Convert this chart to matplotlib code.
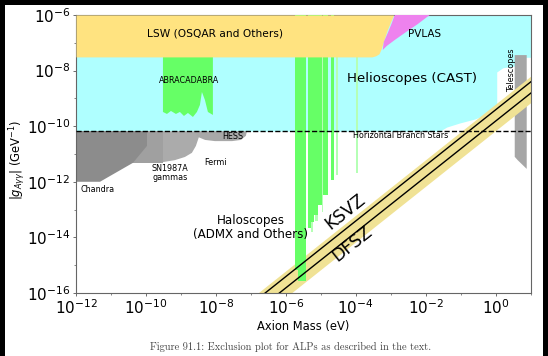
import matplotlib
matplotlib.use("Agg")
import matplotlib.pyplot as plt
from matplotlib.patches import Rectangle
from matplotlib.ticker import NullFormatter

# axis limits: axion mass (eV) and coupling (GeV^-1)
M_LIM = (1e-12, 1e1)
G_LIM = (1e-16, 1e-6)
HB_LIMIT = 6.6e-11

# helioscope (CAST) lower edge
cast_m = [1e-12, 0.025, 0.04, 0.093, 0.25, 0.59, 1.07, 1.07, 1.6, 3.7, 3.7, 10]
cast_g = [6.6e-11, 6.6e-11, 9.3e-11, 1.3e-10, 1.8e-10, 2.75e-10, 3.8e-10,
          8.9e-9, 1.26e-8, 1.48e-8, 3e-8, 3e-8]

# light shining through wall (OSQAR and others)
lsw_m = [1e-12, 2.9e-4, 3.7e-4, 4.6e-4, 5.3e-4, 6e-4, 8e-4, 1.2e-3]
lsw_g = [3.1e-8, 3.1e-8, 3.4e-8, 4e-8, 6e-8, 1e-7, 3e-7, 1e-6]

# PVLAS
pvlas_m = [1.3e-3, 0.013, 5.9e-3, 2.5e-3, 1.3e-3, 7.7e-4, 5.9e-4, 6.3e-4, 8.2e-4, 1.07e-3]
pvlas_g = [1e-6, 1e-6, 4.7e-7, 2.25e-7, 1.26e-7, 7.7e-8, 5.5e-8, 1.07e-7, 2.25e-7, 5.1e-7]

# ABRACADABRA
abra_logm = [-9.514, -8.086, -8.086, -8.229, -8.314, -8.4, -8.457, -8.543, -8.657,
             -8.8, -8.914, -9.029, -9.143, -9.286, -9.4, -9.514]
abra_logg = [-7.51, -7.51, -9.597, -9.489, -9.058, -8.77, -9.237, -9.489, -9.669,
             -9.525, -9.633, -9.489, -9.561, -9.453, -9.561, -9.489]

# haloscope strips: (m_low, m_high, g_low)
halo_lo = [1.81e-6, 2.2e-6, 4.25e-6, 5.2e-6, 6.3e-6, 8.2e-6, 1.14e-5, 1.93e-5]
halo_hi = [2.2e-6, 3.73e-6, 5.2e-6, 6.3e-6, 8.2e-6, 1.07e-5, 1.58e-5, 2.35e-5]
halo_g = [6.8e-16, 2.7e-16, 2.2e-14, 3.5e-14, 6.5e-14, 1.5e-13, 3.4e-13, 1.15e-12]
halo_faint_lo = [5.2e-6, 7.0e-6, 1.07e-5, 2.7e-5, 1.0e-4]
halo_faint_hi = [6.0e-6, 8.2e-6, 1.14e-5, 3.1e-5, 1.12e-4]
halo_faint_g = [1.5e-14, 4e-14, 8e-14, 1.7e-12, 2.1e-12]

# astrophysical bounds
chandra_m = [1e-12, 1.07e-10, 1.07e-10, 4.25e-11, 4.85e-12, 1e-12]
chandra_g = [6.6e-11, 6.6e-11, 1.95e-11, 4.8e-12, 1e-12, 1e-12]
sn_m = [1e-12, 3.06e-10]
sn_g = [4.8e-12, 6.6e-11]
fermi_m = [3.06e-10, 3.5e-9, 3.27e-9, 2.68e-9, 2.06e-9, 1.3e-9, 6.7e-10, 3.06e-10]
fermi_g = [6.6e-11, 6.6e-11, 4.1e-11, 1.95e-11, 1.1e-11, 7.8e-12, 6e-12, 5.1e-12]
hess_m = [2.5e-9, 7.7e-8, 7.2e-8, 5.2e-8, 2.9e-8, 9.4e-9, 4.9e-9, 3.06e-9]
hess_g = [6.6e-11, 6.6e-11, 4.5e-11, 3.2e-11, 2.9e-11, 2.9e-11, 3.2e-11, 4.1e-11]
tele_m = [3.5, 7.7, 7.7, 4.25, 3.5]
tele_g = [3.6e-8, 3.6e-8, 2.9e-12, 6e-12, 7.9e-12]

# QCD axion band and model lines (g proportional to m)
band_m = [1e-8, 20]
band_lo = [7e-19, 1.4e-9]
band_hi = [6.3e-18, 1.26e-8]
ksvz_g = [3.9e-18, 7.8e-9]
dfsz_g = [1.53e-18, 3.06e-9]

fig = plt.figure(figsize=(5.48, 3.56), dpi=100, facecolor="black")
fig.patches.append(Rectangle((5 / 548, 0), 538 / 548, 351 / 356, transform=fig.transFigure,
                             facecolor="white", edgecolor="none", zorder=-5))
ax = fig.add_axes([0.1387, 0.177, 0.8297, 0.781])
ax.set_xscale("log")
ax.set_yscale("log")

ax.fill_between(cast_m, cast_g, 1e-6, color="#AFFFFF", lw=0, zorder=1)
ax.fill_between(lsw_m, lsw_g, 1e-6, color="#FFE380", lw=0, zorder=3)
ax.fill(pvlas_m, pvlas_g, color="#EE82EE", lw=0, zorder=4)
ax.fill([10 ** v for v in abra_logm], [10 ** v for v in abra_logg], color="#66FF66", lw=0, zorder=2)

ax.fill_between(sn_m, sn_g[0], sn_g[1], color="#A0A0A0", lw=0, zorder=2)
ax.fill(chandra_m, chandra_g, color="#8C8C8C", lw=0, zorder=2)
ax.fill(fermi_m, fermi_g, color="#ABABAB", lw=0, zorder=2)
ax.fill(hess_m, hess_g, color="#A8A8A8", lw=0, zorder=2)
ax.fill(tele_m, tele_g, color="#A6A6A6", lw=0, zorder=2)

ax.fill_between(band_m, band_lo, band_hi, color="#F0E295", lw=0, zorder=2.2)
for lo, hi, g in zip(halo_lo, halo_hi, halo_g):
    ax.fill_between([lo, hi], g, 1e-6, color="#66FF66", lw=0, zorder=2.6)
for lo, hi, g in zip(halo_faint_lo, halo_faint_hi, halo_faint_g):
    ax.fill_between([lo, hi], g, 1e-6, color="#B5FFB5", lw=0, zorder=2.5)
ax.plot(band_m, ksvz_g, color="black", lw=1, zorder=6)
ax.plot(band_m, dfsz_g, color="black", lw=1, zorder=6)
ax.axhline(HB_LIMIT, color="black", ls="--", lw=1, zorder=7)

small = 5.8
ax.text(9.3e-9, 2.1e-7, "LSW (OSQAR and Others)", fontsize=7.7, ha="center", va="center", zorder=8)
ax.text(4e-3, 5e-9, "Helioscopes (CAST)", fontsize=9.6, ha="center", va="center", zorder=8)
ax.text(9.3e-3, 2.1e-7, "PVLAS", fontsize=7.5, ha="center", va="center", zorder=8)
ax.text(1.7e-9, 4.3e-9, "ABRACADABRA", fontsize=small, ha="center", va="center", zorder=8)
ax.text(1e-7, 2.2e-14, "Haloscopes\n(ADMX and Others)", fontsize=8.6, ha="center", va="center",
        linespacing=1.1, zorder=8)
ax.text(1.9e-3, 4.5e-11, "Horizontal Branch Stars", fontsize=small, ha="center", va="center", zorder=8)
ax.text(3.1e-8, 4.1e-11, "HESS", fontsize=small, ha="center", va="center", zorder=8)
ax.text(1e-8, 4.8e-12, "Fermi", fontsize=small, ha="center", va="center", zorder=8)
ax.text(4.9e-10, 2.1e-12, "SN1987A\ngammas", fontsize=small, ha="center", va="center",
        linespacing=1.0, zorder=8)
ax.text(4e-12, 5.1e-13, "Chandra", fontsize=small, ha="center", va="center", zorder=8)
ax.text(2.9, 1.05e-8, "Telescopes", fontsize=small, rotation=90, ha="center", va="center", zorder=8)
ax.text(4.85e-5, 8.1e-14, "KSVZ", fontsize=12.5, rotation=38.5, ha="center", va="center", zorder=8)
ax.text(7.7e-5, 5.8e-15, "DFSZ", fontsize=12.5, rotation=38.5, ha="center", va="center", zorder=8)

ax.set_xlim(*M_LIM)
ax.set_ylim(*G_LIM)
ax.set_xticks([1e-12, 1e-10, 1e-8, 1e-6, 1e-4, 1e-2, 1e0])
ax.set_xticks([1e-11, 1e-9, 1e-7, 1e-5, 1e-3, 1e-1, 1e1], minor=True)
ax.set_yticks([1e-16, 1e-14, 1e-12, 1e-10, 1e-8, 1e-6])
ax.set_yticks([1e-15, 1e-13, 1e-11, 1e-9, 1e-7], minor=True)
ax.xaxis.set_minor_formatter(NullFormatter())
ax.yaxis.set_minor_formatter(NullFormatter())
ax.tick_params(which="major", labelsize=11, length=2.5, width=0.6, color="#555555", pad=1.5)
ax.tick_params(which="minor", length=1.5, width=0.5, color="#555555")
for sp in ax.spines.values():
    sp.set_color("#666666")
    sp.set_linewidth(0.8)

ax.set_xlabel("Axion Mass (eV)", fontsize=8.3, labelpad=2)
ax.set_ylabel(r"$|g_{A\gamma\gamma}|$ (GeV$^{-1}$)", fontsize=8.3)
ax.yaxis.set_label_coords(-0.106, 0.48)

fig.text(0.531, 0.025, "Figure 91.1: Exclusion plot for ALPs as described in the text.",
         fontsize=7.5, family="cmr10", color="#444444", ha="center", va="center")

fig.savefig("out.png", dpi=100)
